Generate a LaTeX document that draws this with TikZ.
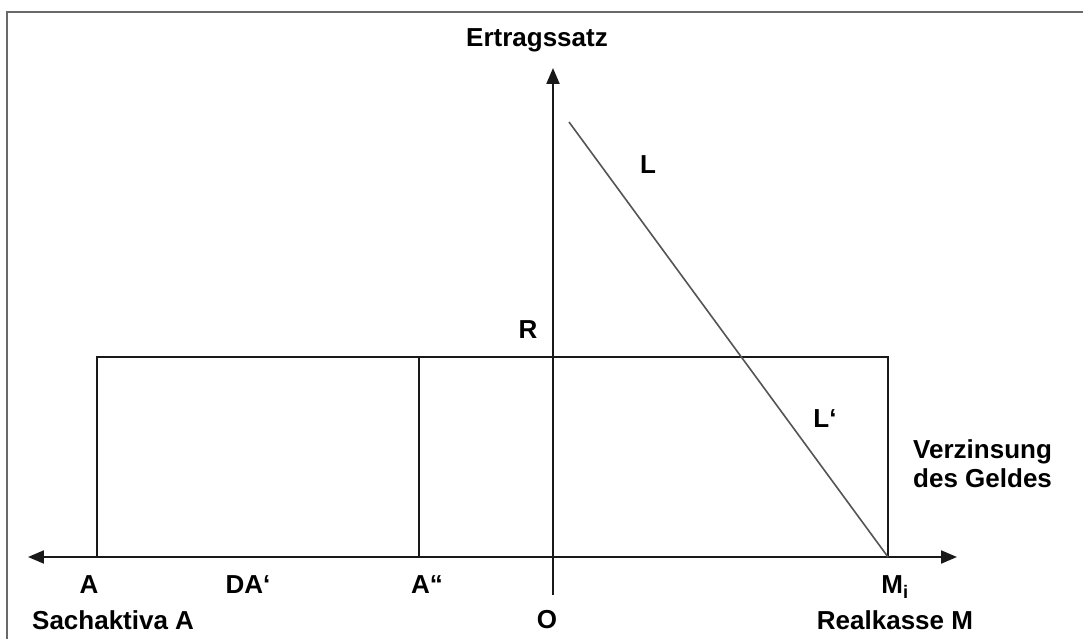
\documentclass[tikz,border=0pt]{standalone}
\usepackage{fontspec}
\setmainfont{Liberation Sans}
\usetikzlibrary{
    arrows.meta,
    positioning
}
\definecolor{FrameGray}{RGB}{105,105,105}
\definecolor{LineGray}{RGB}{85,85,85}
\definecolor{AxisBlack}{RGB}{25,25,25}
\tikzset{
  lbl/.style   = {font=\bfseries\fontsize{26}{29}\selectfont, inner sep=0pt},
  axis/.style  = {line width=2pt, AxisBlack},
  ftip/.tip    = {Triangle[length=16pt, width=13pt]},
  box/.style   = {line width=1.6pt, AxisBlack},
  curve/.style = {line width=1.6pt, LineGray},
  frame/.style = {line width=1.6pt, FrameGray}
}

\begin{document}
\begin{tikzpicture}[x=1pt, y=1pt]
\useasboundingbox (-553,-82) rectangle (530,557);
\draw[frame] (-546,-82) -- (-546,545) -- (530,545);

\coordinate (O) at (0,0);
\coordinate (xl) at (-525,0);
\coordinate (xr) at (404,0);
\coordinate (yb) at (0,-38);
\coordinate (yt) at (0,489);
\coordinate (Ab) at (-456,0);
\coordinate (At) at (-456,200);
\coordinate (Hb) at (-134,0);
\coordinate (Ht) at (-134,200);
\coordinate (Mb) at (335,0);
\coordinate (Mt) at (335,200);
\coordinate (Ltop) at (16,435);

% Achsen
\draw[axis, ftip-ftip] (xl) -- (xr);
\draw[axis, -ftip] (yb) -- (yt);

% Kasten und Geldnachfrage
\draw[box] (Ab) -- (At) -- (Mt) -- (Mb);
\draw[box] (Hb) -- (Ht);
\draw[curve] (Ltop) -- (Mb);

\node[lbl] (ertrag) at (-16,517) {Ertragssatz};
\node[lbl] (L) at (95,392) {L};
\node[lbl] (R) at (-25,227) {R};
\node[lbl] (Lstrich) at (272,138) {L‘};
\node[lbl, anchor=west, align=left] (zins) at (360,93) {Verzinsung\\des Geldes};

\node[lbl] (A) at (-464,-28) {A};
\node[lbl] (DA) at (-305,-28) {DA‘};
\node[lbl] (A2) at (-126,-28) {A“};
\node[lbl] (Mi) at (342,-30) {M\textsubscript{i}};
\node[lbl] (null) at (-6,-63) {O};
\node[lbl, anchor=west] (sach) at (-521,-63) {Sachaktiva A};
\node[lbl] (real) at (342,-63) {Realkasse M};
\end{tikzpicture}
\end{document}
